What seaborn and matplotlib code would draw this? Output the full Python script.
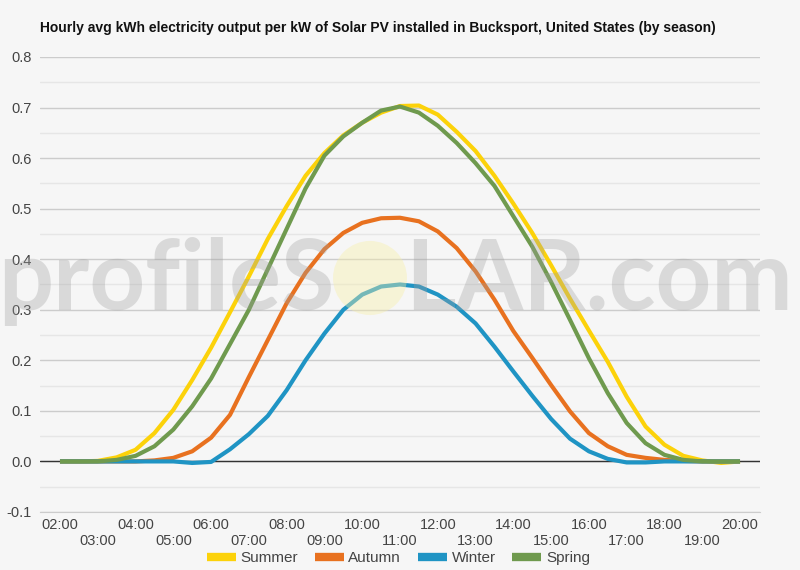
import numpy as np
import pandas as pd
import matplotlib.pyplot as plt
import seaborn as sns
from matplotlib.patches import Ellipse
from matplotlib.ticker import MultipleLocator

# hourly readings every half hour, 02:00 .. 20:00
hours = np.arange(2, 20.01, 0.5)
hour_labels = ["%02d:00" % h for h in range(2, 21)]

summer = [0, 0, 0.001, 0.008, 0.023, 0.056, 0.102, 0.161, 0.225, 0.295,
          0.366, 0.44, 0.505, 0.565, 0.61, 0.645, 0.67, 0.69, 0.703, 0.704,
          0.686, 0.652, 0.614, 0.565, 0.51, 0.452, 0.388, 0.322, 0.259, 0.197,
          0.128, 0.069, 0.033, 0.011, 0.002, -0.003, 0]
autumn = [0, 0, 0, 0, 0, 0.002, 0.007, 0.02, 0.047, 0.092,
          0.167, 0.24, 0.313, 0.373, 0.42, 0.452, 0.472, 0.481, 0.482, 0.475,
          0.455, 0.422, 0.376, 0.32, 0.258, 0.205, 0.151, 0.099, 0.056, 0.03,
          0.013, 0.007, 0.003, 0.001, 0, 0, 0]
winter = [0, 0, 0, 0, 0, 0, 0, -0.003, -0.001, 0.024,
          0.054, 0.09, 0.141, 0.2, 0.253, 0.3, 0.33, 0.346, 0.35, 0.346,
          0.33, 0.306, 0.273, 0.227, 0.178, 0.13, 0.084, 0.045, 0.02, 0.005,
          -0.002, -0.002, 0, 0, 0, 0, 0]
spring = [0, 0, 0, 0.003, 0.011, 0.03, 0.063, 0.109, 0.164, 0.232,
          0.30, 0.38, 0.46, 0.54, 0.605, 0.643, 0.67, 0.694, 0.702, 0.69,
          0.664, 0.63, 0.59, 0.545, 0.485, 0.425, 0.355, 0.28, 0.204, 0.135,
          0.076, 0.036, 0.013, 0.003, 0, 0, 0]

seasons = ["Summer", "Autumn", "Winter", "Spring"]
colors = {"Summer": "#fcd20a", "Autumn": "#e8711f",
          "Winter": "#1f94c4", "Spring": "#6f9a4e"}

df = pd.DataFrame({"hour": hours, "Summer": summer, "Autumn": autumn,
                   "Winter": winter, "Spring": spring})
long = df.melt(id_vars="hour", var_name="season", value_name="kwh")

sns.set_style("white")
plt.rcParams["font.family"] = ["Liberation Sans", "DejaVu Sans"]
bg = "#f6f6f6"

fig = plt.figure(figsize=(8, 5.7), dpi=100, facecolor=bg)
ax = fig.add_axes([0.05, 0.1018, 0.90, 0.7982], facecolor=bg)

sns.lineplot(data=long, x="hour", y="kwh", hue="season", hue_order=seasons,
             palette=colors, linewidth=3.0, ax=ax, legend=False,
             solid_capstyle="butt", solid_joinstyle="round", zorder=3)

ax.set_xlim(1.471, 20.529)
ax.set_ylim(-0.1, 0.8)
ax.yaxis.set_major_locator(MultipleLocator(0.1))
ax.yaxis.set_minor_locator(MultipleLocator(0.05))
ax.grid(axis="y", which="major", color="#cccccc", linewidth=1, zorder=0)
ax.grid(axis="y", which="minor", color="#e6e6e6", linewidth=1, zorder=0)
ax.axhline(0, color="#333333", linewidth=1, zorder=2)
for s in ax.spines.values():
    s.set_visible(False)
ax.spines["bottom"].set_visible(True)
ax.spines["bottom"].set_color("#cccccc")

ax.set_yticks(np.arange(-0.1, 0.81, 0.1))
ax.set_yticklabels(["%.1f" % v for v in np.arange(-0.1, 0.81, 0.1)])
ax.set_xticks(range(2, 21))
ax.set_xticklabels([lab if i % 2 == 0 else "\n" + lab
                    for i, lab in enumerate(hour_labels)])
ax.tick_params(axis="both", which="both", length=0, labelsize=10.5,
               labelcolor="#444444")
ax.tick_params(axis="y", pad=6)
ax.tick_params(axis="x", pad=4)
ax.set_xlabel("")
ax.set_ylabel("")

fig.text(0.05, 0.951, "Hourly avg kWh electricity output per kW of Solar PV "
         "installed in Bucksport, United States (by season)",
         fontsize=10, fontweight="bold", color="#111111", va="center")

# watermark
wm = dict(fontsize=70, color="#a0a0a0", alpha=0.33, family="Lato",
          fontweight="bold", va="baseline", zorder=5)
fig.text(-0.002, 0.457, "profileS", **wm)
fig.text(0.506, 0.457, "LAR.com", **wm)
fig.add_artist(Ellipse((0.4625, 0.5123), 0.0925, 0.13, facecolor="#f7efa8",
                       alpha=0.4, edgecolor="none", zorder=5))

handles = [plt.Line2D([], [], color=colors[s], linewidth=6,
                      solid_capstyle="butt") for s in seasons]
fig.legend(handles, seasons, loc="center", bbox_to_anchor=(0.498, 0.021),
           ncol=4, frameon=False, fontsize=11, handlelength=1.9,
           columnspacing=1.1, handletextpad=0.3, labelcolor="#444444")

fig.savefig("out.png", dpi=100, facecolor=bg)
